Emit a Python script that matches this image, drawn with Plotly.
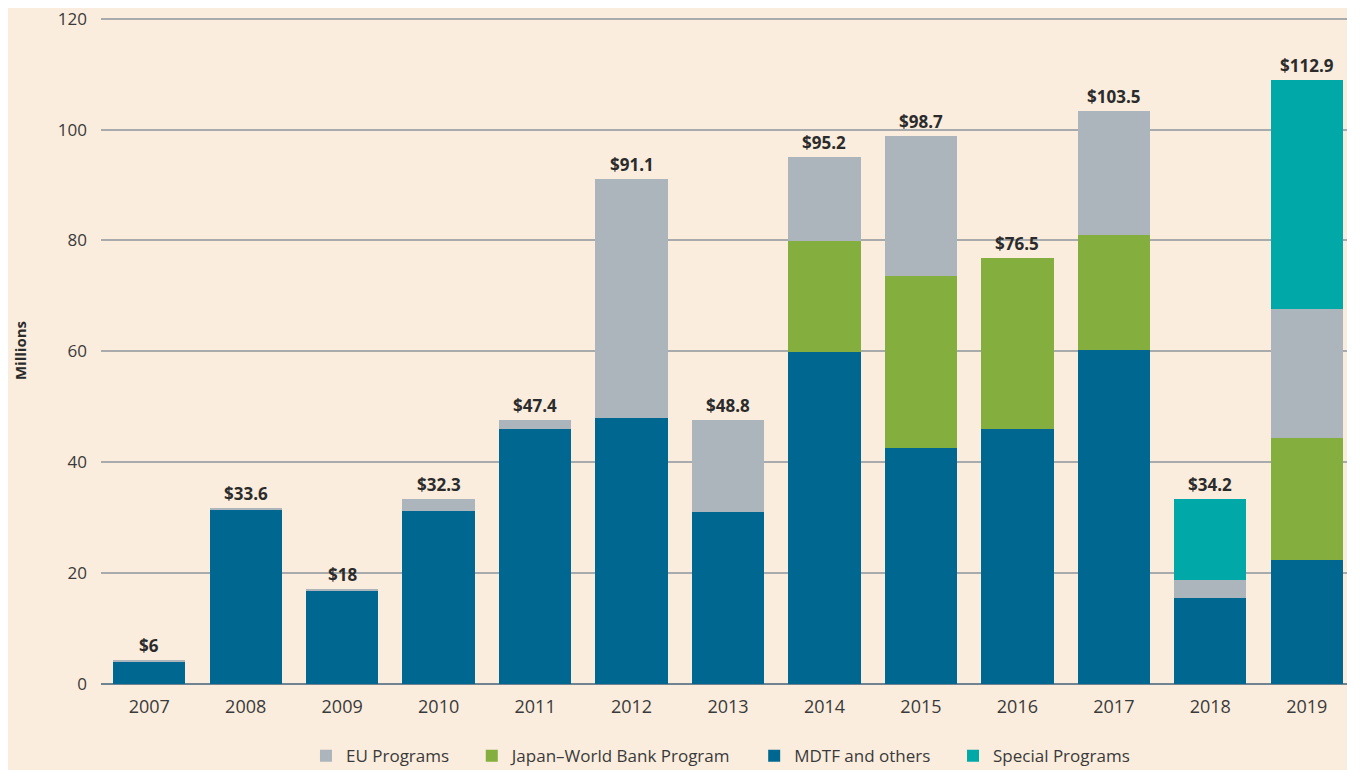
import plotly.graph_objects as go

years = ["2007", "2008", "2009", "2010", "2011", "2012", "2013",
         "2014", "2015", "2016", "2017", "2018", "2019"]

mdtf = [4.0, 31.4, 16.8, 31.2, 46.0, 48.0, 31.0, 59.9, 42.6, 46.0, 60.3, 15.5, 22.4]
japan = [0, 0, 0, 0, 0, 0, 0, 20.0, 31.0, 30.9, 20.7, 0, 22.0]
eu = [0.3, 0.4, 0.3, 2.2, 1.6, 43.1, 16.6, 15.2, 25.3, 0, 22.4, 3.3, 23.3]
special = [0, 0, 0, 0, 0, 0, 0, 0, 0, 0, 0, 14.6, 41.3]

total_labels = ["$6", "$33.6", "$18", "$32.3", "$47.4", "$91.1", "$48.8",
                "$95.2", "$98.7", "$76.5", "$103.5", "$34.2", "$112.9"]

FONT = "Open Sans, Noto Sans, sans-serif"
BG = "#faeddd"
PAD = "\u00a0" * 4  # extra room between legend entries

fig = go.Figure()

# stacking order bottom -> top
fig.add_trace(go.Bar(x=years, y=mdtf, name="MDTF and others" + PAD,
                     marker=dict(color="#006890", line_width=0), legendrank=3))
fig.add_trace(go.Bar(x=years, y=japan, name="Japan\u2013World Bank Program" + PAD,
                     marker=dict(color="#84ae3d", line_width=0), legendrank=2))
fig.add_trace(go.Bar(x=years, y=eu, name="EU Programs" + PAD,
                     marker=dict(color="#abb5bb", line_width=0), legendrank=1))
fig.add_trace(go.Bar(x=years, y=special, name="Special Programs",
                     marker=dict(color="#00a8a8", line_width=0), legendrank=4))

# total labels above each bar (annotation x is the category index)
totals = [a + b + c + d for a, b, c, d in zip(mdtf, japan, eu, special)]
for i, (tot, lab) in enumerate(zip(totals, total_labels)):
    fig.add_annotation(x=i, y=tot, text="<b>" + lab + "</b>", showarrow=False,
                       yanchor="bottom", yshift=1,
                       font=dict(size=17, color="#2b2b2b", family=FONT))

# page body has an 8px margin, so the figure is sized to end at the window edge
fig.update_layout(
    barmode="stack",
    bargap=0.25,
    width=1347,
    height=762,
    margin=dict(l=93, r=0, t=9, b=86, autoexpand=False),
    paper_bgcolor=BG,
    plot_bgcolor=BG,
    font=dict(family=FONT, size=16, color="#3a3a3a"),
    legend=dict(orientation="h", x=0.494, xanchor="center",
                yref="container", y=0.018, yanchor="middle",
                font=dict(size=17, color="#3a3a3a"), traceorder="normal",
                itemwidth=30),
    showlegend=True,
)
fig.update_yaxes(range=[0, 120.3], tickvals=[0, 20, 40, 60, 80, 100, 120],
                 ticklabeloverflow="allow",
                 showgrid=True, gridcolor="#a8aaab",
                 gridwidth=1.5, zeroline=True, zerolinecolor="#6f8390",
                 zerolinewidth=1.5, ticks="", ticklabelstandoff=13,
                 tickfont=dict(size=17, color="#3a3a3a"),
                 title=dict(text="<b>Millions</b>", font=dict(size=15, color="#2b2b2b"),
                            standoff=27))
fig.update_xaxes(type="category", range=[-0.5, 12.5], showgrid=False, ticks="",
                 ticklabelstandoff=10, tickfont=dict(size=18, color="#3a3a3a"))

fig.write_html("out.html")
